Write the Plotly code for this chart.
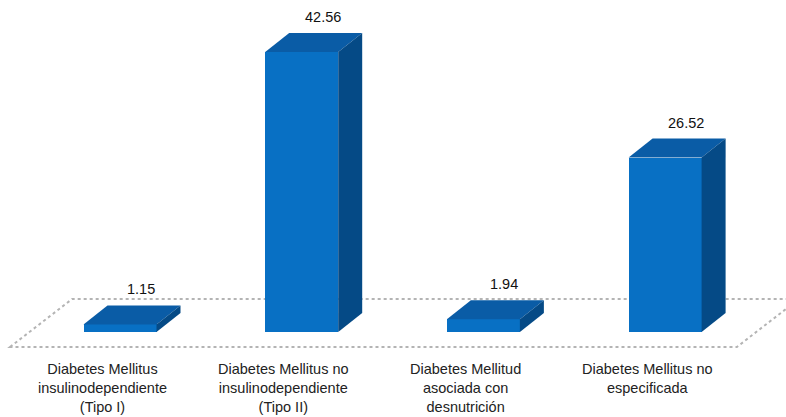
import plotly.graph_objects as go

# ---- data ----
categories = [
    "Diabetes Mellitus<br>insulinodependiente<br>(Tipo I)",
    "Diabetes Mellitus no<br>insulinodependiente<br>(Tipo II)",
    "Diabetes Mellitud<br>asociada con<br>desnutrición",
    "Diabetes Mellitus no<br>especificada",
]
values = [1.15, 42.56, 1.94, 26.52]
value_labels = ["1.15", "42.56", "1.94", "26.52"]

# ---- geometry / style ----
W, H = 786, 417
PX_CAT = 181.7      # pixels per category
X0_PX = 120         # pixel of first bar front centre
PX_UNIT = 6.58      # pixels per value unit
BASE_PX = 332       # pixel of value 0 (bar front baseline)

ux = 1 / PX_CAT
uy = 1 / PX_UNIT
xr = [-X0_PX * ux, (W - X0_PX) * ux]
yr = [(BASE_PX - H) * uy, BASE_PX * uy]

bw = 73 * ux        # bar width
dx = 24 * ux        # depth offsets
dy = 19 * uy

FRONT = "#0870c4"
TOP = "#0a5ca6"
SIDE = "#054a86"
FONT = "Liberation Sans, Arial"

idx = list(range(len(values)))
fig = go.Figure()

# front faces
fig.add_trace(go.Bar(x=idx, y=values, width=bw, marker=dict(color=FRONT, line=dict(width=0)),
                     hoverinfo="skip", showlegend=False))

# top & side faces
for i, v in zip(idx, values):
    l, r = i - bw / 2, i + bw / 2
    fig.add_trace(go.Scatter(x=[l, l + dx, r + dx, r, l], y=[v, v + dy, v + dy, v, v],
                             fill="toself", fillcolor=TOP, mode="lines",
                             line=dict(width=0, color=TOP), hoverinfo="skip", showlegend=False))
    fig.add_trace(go.Scatter(x=[r, r + dx, r + dx, r, r], y=[0, dy, v + dy, v, 0],
                             fill="toself", fillcolor=SIDE, mode="lines",
                             line=dict(width=0, color=SIDE), hoverinfo="skip", showlegend=False))

# floor (parallelogram, drawn below bars)
fdx = 62 * ux
fy_front = -15 * uy
fy_back = 33 * uy
fx_left = -0.5 - 0.105
fx_right = len(values) - 0.5 - 0.105
floor_path = (f"M {fx_left},{fy_front} L {fx_left + fdx},{fy_back} "
              f"L {fx_right + fdx},{fy_back} L {fx_right},{fy_front} Z")
fig.add_shape(type="path", path=floor_path, xref="x", yref="y", layer="below",
              line=dict(color="#b4b4b4", width=2, dash="dot"), fillcolor="rgba(0,0,0,0)")

# value labels
for i, v, t in zip(idx, values, value_labels):
    fig.add_annotation(x=i + 21 * ux, y=v + dy + 16 * uy, text=t, showarrow=False,
                       xanchor="center", yanchor="middle",
                       font=dict(family=FONT, size=14.5, color="#111111"))

# category labels
for i, c in zip(idx, categories):
    fig.add_annotation(x=i - 18 * ux, y=fy_front - 12 * uy, text=c, showarrow=False,
                       xanchor="center", yanchor="top", align="center",
                       font=dict(family=FONT, size=14.5, color="#222222"))

fig.update_layout(
    width=W, height=H, margin=dict(l=0, r=0, t=0, b=0),
    paper_bgcolor="white", plot_bgcolor="white", showlegend=False,
    xaxis=dict(range=xr, visible=False, fixedrange=True),
    yaxis=dict(range=yr, visible=False, fixedrange=True),
    bargap=0,
)
fig.write_html("out.html")
